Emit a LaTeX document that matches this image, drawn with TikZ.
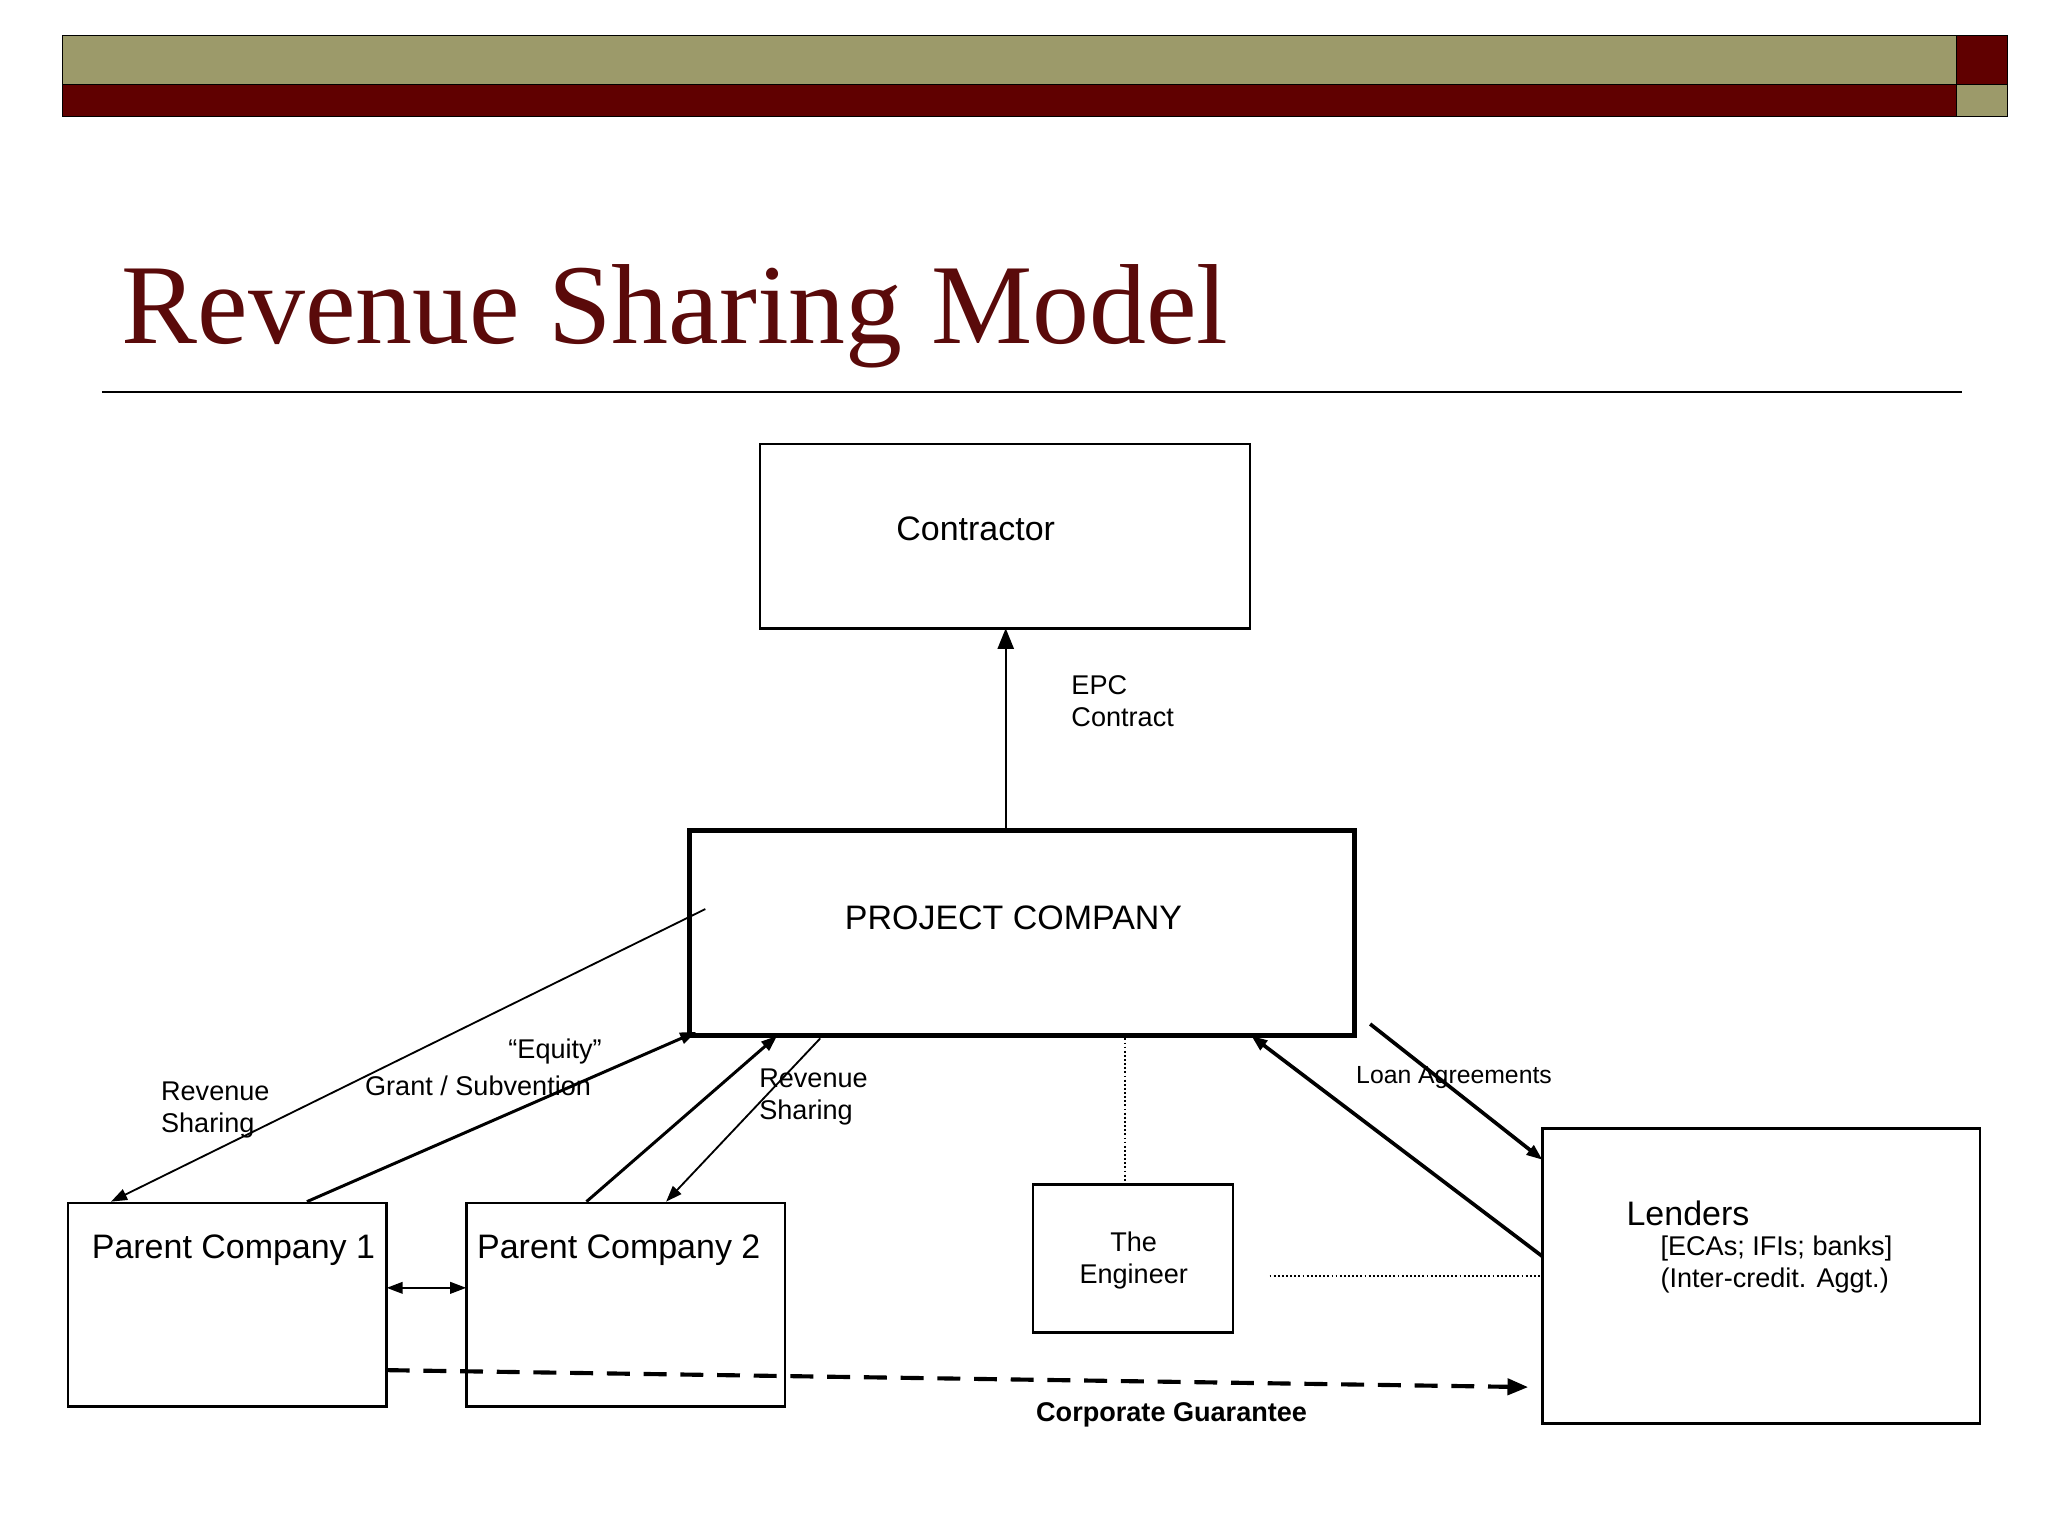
\documentclass[tikz,border=0pt]{standalone}
\usepackage{fontspec}
\setmainfont{Liberation Sans}
\newfontfamily\titlefont{Liberation Serif}
\usetikzlibrary{arrows.meta}
\definecolor{olive}{HTML}{9C9A6A}
\definecolor{dred}{HTML}{600000}
\definecolor{tred}{HTML}{5A0A0A}
\begin{document}
\begin{tikzpicture}[x=0.02cm,y=-0.02cm,
  box/.style={draw,line width=1.1pt},
  lbl/.style={font=\fontsize{11.8}{14}\selectfont,align=left,inner sep=0},
  big/.style={font=\fontsize{14.8}{17}\selectfont,inner sep=0},
  tip/.style={-{Triangle[length=9pt,width=7pt]}},
  stip/.style={-{Triangle[length=7pt,width=5pt]}}]
\useasboundingbox (0,0) rectangle (1568,1176);
\fill[white] (0,0) rectangle (1568,1176);
\filldraw[fill=olive,draw=black] (48,27) rectangle (1498,65);
\filldraw[fill=dred,draw=black] (48,65) rectangle (1498,89);
\filldraw[fill=dred,draw=black] (1498,27) rectangle (1537,65);
\filldraw[fill=olive,draw=black] (1498,65) rectangle (1537,89);
\node[anchor=base west,inner sep=0,text=tred,font=\titlefont\fontsize{49.6}{56}\selectfont] (title) at (93,263) {Revenue Sharing Model};
\draw[line width=1pt] (78,300) -- (1502,300);

\draw[box] (582,340) rectangle (957,481);
\node[big] (contr) at (747,405) {Contractor};
\coordinate (cb) at (770,481);
\draw[line width=2.2pt] (528,636) rectangle (1037,793);
\node[big] (pc) at (776,703) {PROJECT COMPANY};
\coordinate (pct) at (770,636);
\draw[line width=1pt,tip] (pct) -- (cb);
\node[lbl,anchor=north west] (epc) at (820,517) {EPC\\Contract};

\draw[box] (52,921) rectangle (296,1077);
\node[big,anchor=west] (p1) at (70,957) {Parent Company 1};
\draw[box] (357,921) rectangle (601,1077);
\node[big,anchor=west] (p2) at (365,957) {Parent Company 2};
\draw[box] (791,907) rectangle (944,1020);
\node[lbl,align=center] (eng) at (868,965) {The\\Engineer};
\draw[box] (1181,864) rectangle (1516,1090);
\node[big,anchor=west] (len) at (1245,929) {Lenders};
\node[lbl,anchor=north west] (len2) at (1271,946) {[ECAs; IFIs; banks]\\(Inter-credit. Aggt.)};

\coordinate (a1) at (540,696); \coordinate (a2) at (85,920);
\draw[line width=0.8pt,stip] (a1) -- (a2);
\node[lbl,anchor=north west] (rs1) at (123,828) {Revenue\\Sharing};
\coordinate (b1) at (235,920); \coordinate (b2) at (533,790);
\draw[line width=1.3pt,stip] (b1) -- (b2);
\node[lbl] (eq) at (425,805) {“Equity”};
\node[lbl] (gs) at (366,831) {Grant / Subvention};
\coordinate (c1) at (449,920); \coordinate (c2) at (595,793);
\draw[line width=1.3pt,stip] (c1) -- (c2);
\coordinate (d1) at (628,795); \coordinate (d2) at (510,920);
\draw[line width=0.8pt,stip] (d1) -- (d2);
\node[lbl,anchor=north west] (rs2) at (581,818) {Revenue\\Sharing};
\draw[densely dotted,line width=0.8pt] (861,795) -- (861,907);
\draw[densely dotted,line width=0.8pt] (972,977) -- (1181,977);
\coordinate (e1) at (1049,784); \coordinate (e2) at (1181,888);
\draw[line width=1.6pt,stip] (e1) -- (e2);
\coordinate (f1) at (1181,962); \coordinate (f2) at (958,793);
\draw[line width=1.6pt,stip] (f1) -- (f2);
\node[lbl,anchor=west,font=\fontsize{10.8}{12}\selectfont] (loan) at (1038,825) {Loan Agreements};
\draw[line width=1pt,{Triangle[length=7pt,width=5pt]}-{Triangle[length=7pt,width=5pt]}] (296,986) -- (357,986);
\draw[line width=1.8pt,dash pattern=on 10pt off 6pt,tip] (296,1049) -- (1170,1062);
\node[lbl,font=\bfseries\fontsize{11.8}{13}\selectfont] (cg) at (897,1083) {Corporate Guarantee};
\end{tikzpicture}
\end{document}
